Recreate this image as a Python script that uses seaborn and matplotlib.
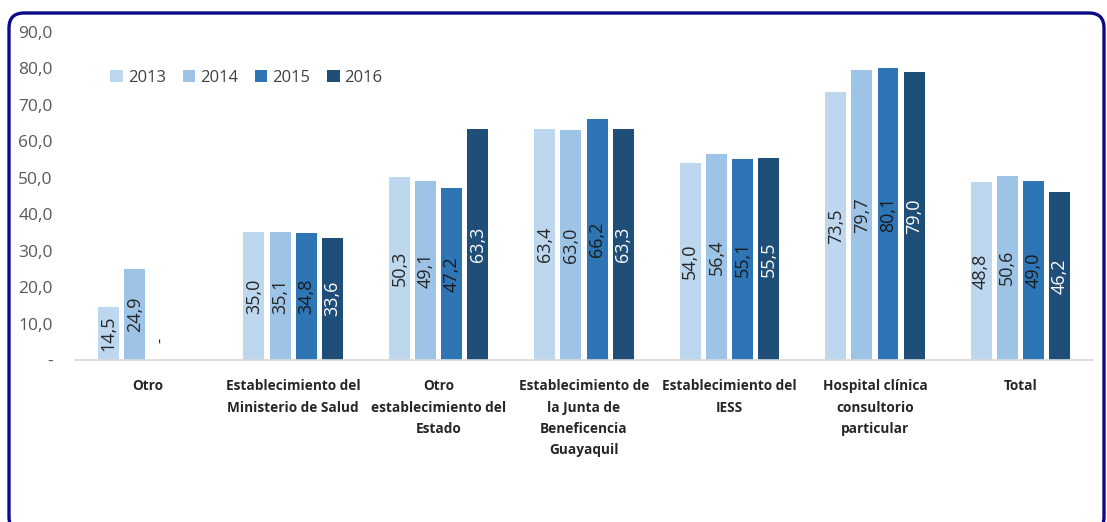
import numpy as np
import pandas as pd
import matplotlib
matplotlib.use("Agg")
import matplotlib.pyplot as plt
from matplotlib.patches import FancyBboxPatch
import seaborn as sns

categories = [
    "Otro",
    "Establecimiento del\nMinisterio de Salud",
    "Otro\nestablecimiento del\nEstado",
    "Establecimiento de\nla Junta de\nBeneficencia\nGuayaquil",
    "Establecimiento del\nIESS",
    "Hospital clínica\nconsultorio\nparticular",
    "Total",
]
years = ["2013", "2014", "2015", "2016"]
v2013 = [14.5, 35.0, 50.3, 63.4, 54.0, 73.5, 48.8]
v2014 = [24.9, 35.1, 49.1, 63.0, 56.4, 79.7, 50.6]
v2015 = [0.0, 34.8, 47.2, 66.2, 55.1, 80.1, 49.0]
v2016 = [0.0, 33.6, 63.3, 63.3, 55.5, 79.0, 46.2]
lab2013 = ["14,5", "35,0", "50,3", "63,4", "54,0", "73,5", "48,8"]
lab2014 = ["24,9", "35,1", "49,1", "63,0", "56,4", "79,7", "50,6"]
lab2015 = ["-", "34,8", "47,2", "66,2", "55,1", "80,1", "49,0"]
lab2016 = ["", "33,6", "63,3", "63,3", "55,5", "79,0", "46,2"]
yticks = [0, 10, 20, 30, 40, 50, 60, 70, 80, 90]
ytick_labels = ["-", "10,0", "20,0", "30,0", "40,0", "50,0", "60,0", "70,0", "80,0", "90,0"]

colors = ["#BDD7EE", "#9DC3E6", "#2E75B6", "#1F4E79"]
label_colors = ["#262626", "#262626", "#1a1a1a", "#FFFFFF"]

values = [v2013, v2014, v2015, v2016]
labels = [lab2013, lab2014, lab2015, lab2016]
rows = []
for y, vals in zip(years, values):
    for c, v in zip(categories, vals):
        rows.append({"cat": c, "year": y, "val": v})
df = pd.DataFrame(rows)

sns.set_theme(style="white")
plt.rcParams["font.family"] = ["Open Sans", "DejaVu Sans"]

fig = plt.figure(figsize=(11.07, 5.22), dpi=100)
ax = fig.add_axes([0.0678, 0.3103, 0.9196, 0.6284])

sns.barplot(data=df, x="cat", y="val", hue="year", order=categories,
            hue_order=years, palette=colors, width=0.72, gap=0.2,
            errorbar=None, ax=ax, saturation=1, linewidth=0)

for i, cont in enumerate(ax.containers):
    for patch, lab in zip(cont.patches, labels[i]):
        if not lab:
            continue
        cx = patch.get_x() + patch.get_width() / 2
        h = patch.get_height()
        if h > 0:
            ax.text(cx, h / 2, lab, rotation=90, ha="center", va="center",
                    fontsize=13, color=label_colors[i])
        else:
            ax.annotate(lab, (cx, h), xytext=(0, 14), textcoords="offset points",
                        rotation=90, ha="center", va="center",
                        fontsize=12, color="#262626")

ax.set_ylim(0, 90)
ax.set_xlim(-0.5, len(categories) - 0.5)
ax.set_yticks(yticks)
ax.set_yticklabels(ytick_labels)
ax.tick_params(axis="y", length=0, labelsize=12.5, labelcolor="#595959", pad=16)
ax.tick_params(axis="x", length=0, labelsize=9.8, labelcolor="#262626", pad=14)
for t in ax.get_xticklabels():
    t.set_fontweight("bold")
    t.set_multialignment("center")
    t.set_verticalalignment("top")
    t.set_linespacing(1.65)
ax.set_xlabel("")
ax.set_ylabel("")
for s in ["top", "right", "left"]:
    ax.spines[s].set_visible(False)
ax.spines["bottom"].set_color("#D9D9D9")
ax.spines["bottom"].set_linewidth(1.2)

leg = ax.legend(loc="upper left", bbox_to_anchor=(0.02, 0.93), ncol=4,
                frameon=False, fontsize=12, handlelength=0.75,
                handleheight=0.75, handletextpad=0.3, columnspacing=1.0,
                labelcolor="#404040")

frame = FancyBboxPatch((0.09, -0.1), 10.95, 5.19,
                       boxstyle="round,pad=0,rounding_size=0.15",
                       transform=fig.dpi_scale_trans, fill=False,
                       edgecolor="#0B0B8A", linewidth=2.4, zorder=10)
fig.patches.append(frame)

fig.savefig("out.png", dpi=100)
